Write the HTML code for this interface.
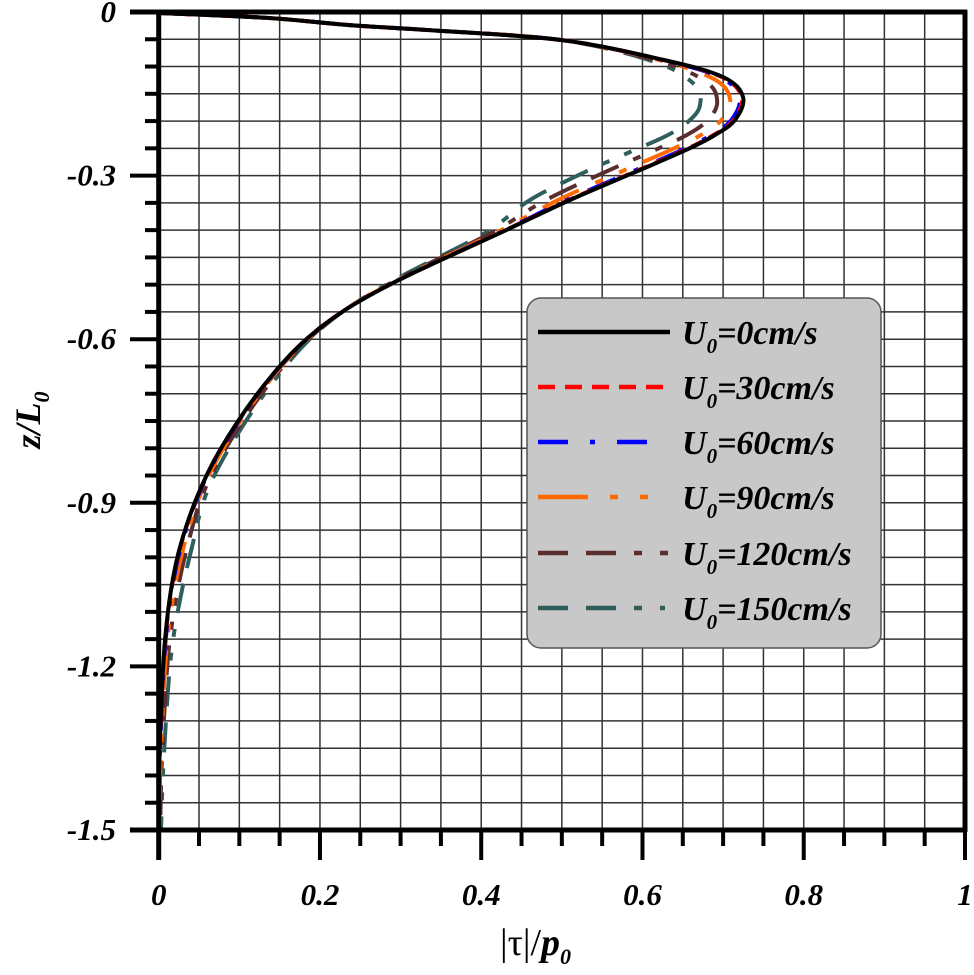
<!DOCTYPE html>
<html><head><style>
body{margin:0;background:#fff;}
svg text{font-family:"Liberation Serif",serif;font-weight:bold;font-style:italic;}
</style></head><body>
<svg id="s" width="974" height="970" xmlns="http://www.w3.org/2000/svg">
<g id="grid" stroke="#333" stroke-width="1.5"></g>
<g id="curves" fill="none" stroke-width="4"></g>
<g id="axes" stroke="#000"></g>
<g id="labels" font-size="31" fill="#000"></g>
<rect x="527" y="298" width="354" height="350" rx="14" fill="#c8c8c8" stroke="#555" stroke-width="1.5"/>
<g stroke-width="4.5" fill="none">
<line x1="538" y1="332" x2="670" y2="332" stroke="#000"/>
<line x1="538" y1="387" x2="665" y2="387" stroke="#f00" stroke-dasharray="17,10"/>
<line x1="538" y1="442" x2="655" y2="442" stroke="#00f" stroke-dasharray="30,22,5,22"/>
<line x1="538" y1="497" x2="657" y2="497" stroke="#ff6a00" stroke-dasharray="50,22,8,22,8,22"/>
<line x1="538" y1="553" x2="670" y2="553" stroke="#5a2e2e" stroke-dasharray="30,18,30,18,8,18,8"/>
<line x1="538" y1="608" x2="665" y2="608" stroke="#2f5f5c" stroke-dasharray="30,18,30,18,8,18,8"/>
</g>
<g font-size="34" fill="#000">
<text x="682" y="344">U<tspan font-size="21" dy="9">0</tspan><tspan dy="-9">=0cm/s</tspan></text>
<text x="682" y="399">U<tspan font-size="21" dy="9">0</tspan><tspan dy="-9">=30cm/s</tspan></text>
<text x="682" y="454">U<tspan font-size="21" dy="9">0</tspan><tspan dy="-9">=60cm/s</tspan></text>
<text x="682" y="509">U<tspan font-size="21" dy="9">0</tspan><tspan dy="-9">=90cm/s</tspan></text>
<text x="682" y="565">U<tspan font-size="21" dy="9">0</tspan><tspan dy="-9">=120cm/s</tspan></text>
<text x="682" y="620">U<tspan font-size="21" dy="9">0</tspan><tspan dy="-9">=150cm/s</tspan></text>
</g>
<text x="500" y="955" font-size="38" fill="#000" style="font-style:normal;font-weight:normal">|τ|/<tspan style="font-style:italic;font-weight:bold">p</tspan><tspan font-size="22" dy="9" style="font-style:italic;font-weight:bold">0</tspan></text>
<text transform="translate(40,420) rotate(-90)" font-size="36" fill="#000" text-anchor="middle">z/L<tspan font-size="22" dy="9">0</tspan></text>
</svg>
<script>
var NS="http://www.w3.org/2000/svg";
function el(p,t,a){var e=document.createElementNS(NS,t);for(var k in a)e.setAttribute(k,a[k]);document.getElementById(p).appendChild(e);return e;}
var X0=158.7,X1=965,Y0=12,Y1=830;
for(var i=1;i<20;i++){var x=X0+(X1-X0)*i/20;el("grid","line",{x1:x,y1:Y0,x2:x,y2:Y1});
 el("axes","line",{x1:x,y1:Y1,x2:x,y2:(i%4==0?860:846),"stroke-width":4});}
for(var j=1;j<30;j++){var y=Y0+(Y1-Y0)*j/30;el("grid","line",{x1:X0,y1:y,x2:X1,y2:y});
 el("axes","line",{x1:(j%6==0?130:145),y1:y,x2:X0,y2:y,"stroke-width":4});}
el("axes","line",{x1:130,y1:Y0,x2:X1+2,y2:Y0,"stroke-width":5});
el("axes","line",{x1:130,y1:Y1,x2:X1+2,y2:Y1,"stroke-width":5});
el("axes","line",{x1:X0,y1:Y0-2,x2:X0,y2:860,"stroke-width":5});
el("axes","line",{x1:X1,y1:Y0-2,x2:X1,y2:Y1+2,"stroke-width":5});
el("axes","line",{x1:X0,y1:Y1,x2:X0,y2:860,"stroke-width":4});
el("axes","line",{x1:X1,y1:Y1,x2:X1,y2:860,"stroke-width":4});
var yl=["0","-0.3","-0.6","-0.9","-1.2","-1.5"];
for(var j=0;j<6;j++){var t=el("labels","text",{x:116,y:Y0+(Y1-Y0)*j/5+10,"text-anchor":"end"});t.textContent=yl[j];}
var xl=["0","0.2","0.4","0.6","0.8","1"];
for(var i=0;i<6;i++){var t=el("labels","text",{x:X0+(X1-X0)*i/5,y:905,"text-anchor":"middle"});t.textContent=xl[i];}
var A=[[160,13],[269,18],[348,25],[427,30],[561,40],[664,60],[723,77],[743,97],[735,120],[715,135],[686,150],[640,170],[570,200],[500,233],[405,277],[345,310],[300,345],[258,393],[220,450],[197,497],[180,547],[171,590],[165,640],[162,690],[159,773],[159,830]];
var B=[[160,13],[269,18],[348,25],[427,30],[561,40],[655,62],[695,85],[700,105],[690,120],[668,135],[630,152],[585,172],[530,200],[485,233],[400,277],[345,310],[304,345],[265,393],[228,450],[205,497],[192,547],[182,590],[173,640],[168,690],[163,773],[161,830]];
function path(P){var d="M"+P[0][0]+","+P[0][1];for(var i=0;i<P.length-1;i++){var p0=P[Math.max(0,i-1)],p1=P[i],p2=P[i+1],p3=P[Math.min(P.length-1,i+2)];
d+=" C"+(p1[0]+(p2[0]-p0[0])/6)+","+(p1[1]+(p2[1]-p0[1])/6)+" "+(p2[0]-(p3[0]-p1[0])/6)+","+(p2[1]-(p3[1]-p1[1])/6)+" "+p2[0]+","+p2[1];}return d;}
var S=[["#000","",0],["#f00","12,8",0.03],["#00f","30,20,5,20",0.08],["#ff6a00","40,18,8,18,8,18",0.3],["#5a2e2e","30,16,30,16,8,16,8,16",0.6],["#2f5f5c","30,16,30,16,8,16,8,16",1]];
for(var k=S.length-1;k>=0;k--){var f=S[k][2];var P=A.map(function(p,i){return [p[0]+(B[i][0]-p[0])*f,p[1]+(B[i][1]-p[1])*f];});
var a={d:path(P),stroke:S[k][0]};if(S[k][1])a["stroke-dasharray"]=S[k][1];el("curves","path",a);}
</script>
</body></html>
